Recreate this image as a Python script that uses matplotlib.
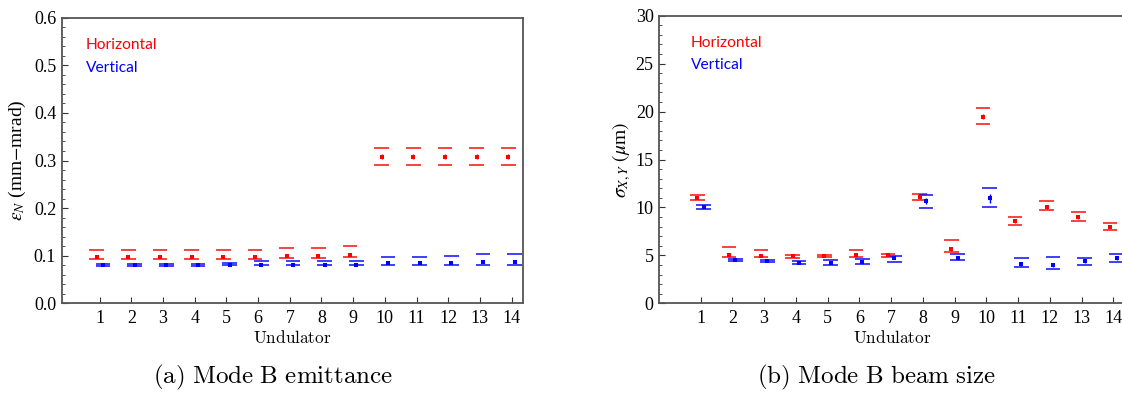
import numpy as np
import matplotlib.pyplot as plt
from matplotlib.ticker import MultipleLocator

undulator = np.arange(1, 15)

# (a) emittance, mm-mrad
emit_h = [0.0965, 0.0965, 0.0965, 0.0965, 0.0965, 0.0965, 0.099, 0.099, 0.102,
          0.308, 0.308, 0.308, 0.308, 0.308]
emit_h_err = [0.002] * 9 + [0.005] * 5
emit_h_hi = [0.1126, 0.1126, 0.1126, 0.1126, 0.113, 0.113, 0.116, 0.116, 0.120,
             0.327, 0.327, 0.327, 0.327, 0.327]
emit_h_lo = [0.093, 0.093, 0.093, 0.093, 0.093, 0.093, 0.095, 0.095, 0.098,
             0.2916, 0.2916, 0.2916, 0.2916, 0.2916]

emit_v = [0.080, 0.080, 0.080, 0.080, 0.081, 0.081, 0.081, 0.081, 0.081,
          0.085, 0.085, 0.085, 0.0867, 0.0867]
emit_v_err = [0.0015] * 9 + [0.003] * 5
emit_v_hi = [0.082, 0.082, 0.082, 0.082, 0.085, 0.088, 0.088, 0.088, 0.088,
             0.0965, 0.0965, 0.099, 0.1028, 0.1035]
emit_v_lo = [0.079, 0.079, 0.079, 0.079, 0.0797, 0.080, 0.080, 0.080, 0.080,
             0.0804, 0.0804, 0.0804, 0.080, 0.080]

# (b) beam size, um
size_h = [11.0, 5.0, 4.97, 4.9, 4.93, 5.0, 5.0, 11.1, 5.66, 19.48, 8.58, 10.0, 8.99, 7.95]
size_h_err = [0.15, 0.2, 0.12, 0.12, 0.1, 0.15, 0.1, 0.2, 0.2, 0.3, 0.15, 0.2, 0.2, 0.12]
size_h_hi = [11.25, 5.83, 5.56, 5.03, 5.03, 5.56, 5.14, 11.39, 6.6, 20.35, 8.96, 10.69, 9.51, 8.33]
size_h_lo = [10.8, 4.83, 4.83, 4.76, 4.83, 4.86, 4.86, 10.76, 5.38, 18.75, 8.16, 9.72, 8.61, 7.67]

size_v = [10.07, 4.51, 4.38, 4.24, 4.2, 4.3, 4.76, 10.69, 4.76, 10.94, 4.13, 3.96, 4.38, 4.69]
size_v_err = [0.12, 0.08, 0.08, 0.12, 0.12, 0.2, 0.15, 0.3, 0.2, 0.43, 0.2, 0.2, 0.2, 0.2]
size_v_hi = [10.28, 4.62, 4.48, 4.375, 4.51, 4.58, 4.9, 11.25, 5.14, 12.08, 4.69, 4.79, 4.76, 5.14]
size_v_lo = [9.86, 4.41, 4.27, 4.1, 4.03, 4.1, 4.34, 9.93, 4.48, 10.03, 3.82, 3.58, 4.03, 4.34]

RED = (1.0, 0.0, 0.0)
BLUE = (0.0, 0.0, 1.0)
GRAY = "#555555"
offset = 0.1
half = 0.23

fig = plt.figure(figsize=(11.22, 3.93), dpi=100)
ax1 = fig.add_axes([0.055, 0.2282, 0.4114, 0.7267])
ax2 = fig.add_axes([0.5876, 0.2282, 0.416, 0.7318])


def draw(ax, vals, err, hi, lo, dx, color):
    x = undulator + dx
    ax.hlines(hi, x - half, x + half, color=color, lw=1.4, alpha=0.75)
    ax.hlines(lo, x - half, x + half, color=color, lw=1.4, alpha=0.75)
    ax.errorbar(x, vals, yerr=err, fmt="s", ms=2.6, color=color, ecolor=color,
                elinewidth=1.0, capsize=1.6, capthick=1.0, mew=0)


def style(ax, ymax, major, minor, xlim):
    ax.set_xlim(*xlim)
    ax.set_ylim(0, ymax)
    ax.set_xticks(undulator)
    ax.yaxis.set_major_locator(MultipleLocator(major))
    ax.yaxis.set_minor_locator(MultipleLocator(minor))
    for s in ax.spines.values():
        s.set_color(GRAY)
        s.set_linewidth(1.3)
    ax.tick_params(axis="both", which="major", direction="in", length=4,
                   width=0.8, color="#333333", labelsize=13, pad=4)
    ax.tick_params(axis="y", which="minor", direction="in", length=2.2,
                   width=0.6, color="#333333")
    ax.tick_params(axis="x", which="major", pad=5)
    for lab in ax.get_xticklabels() + ax.get_yticklabels():
        lab.set_family("Liberation Serif")
    ax.set_xlabel(r"$\mathrm{Undulator}$", fontsize=12.4, math_fontfamily="cm",
                  labelpad=1)


draw(ax1, emit_h, emit_h_err, emit_h_hi, emit_h_lo, -offset, RED)
draw(ax1, emit_v, emit_v_err, emit_v_hi, emit_v_lo, offset, BLUE)
style(ax1, 0.6, 0.1, 0.02, (-0.2, 14.37))
ax1.yaxis.set_major_formatter(plt.FormatStrFormatter("%.1f"))
ax1.set_ylabel(r"$\epsilon_N$ (mm$-$mrad)", fontsize=14, family="Liberation Serif",
               math_fontfamily="stix", labelpad=4)
ax1.text(0.052, 0.905, "Horizontal", color=RED, transform=ax1.transAxes,
         fontsize=11.2, family="Lato", va="center")
ax1.text(0.052, 0.825, "Vertical", color=BLUE, transform=ax1.transAxes,
         fontsize=11.2, family="Lato", va="center")

draw(ax2, size_h, size_h_err, size_h_hi, size_h_lo, -offset, RED)
draw(ax2, size_v, size_v_err, size_v_hi, size_v_lo, offset, BLUE)
style(ax2, 30, 5, 1, (-0.3, 14.4))
ax2.set_ylabel(r"$\sigma_{X,Y}$ $(\mu$m$)$", fontsize=14, family="Liberation Serif",
               math_fontfamily="stix", labelpad=2)
ax2.text(0.068, 0.905, "Horizontal", color=RED, transform=ax2.transAxes,
         fontsize=11.2, family="Lato", va="center")
ax2.text(0.068, 0.828, "Vertical", color=BLUE, transform=ax2.transAxes,
         fontsize=11.2, family="Lato", va="center")

fig.text(0.2435, 0.04, r"$\mathrm{(a)\ Mode\ B\ emittance}$", ha="center",
         va="center", fontsize=18, math_fontfamily="cm")
fig.text(0.781, 0.04, r"$\mathrm{(b)\ Mode\ B\ beam\ size}$", ha="center",
         va="center", fontsize=18, math_fontfamily="cm")

fig.savefig("out.png", dpi=100)
